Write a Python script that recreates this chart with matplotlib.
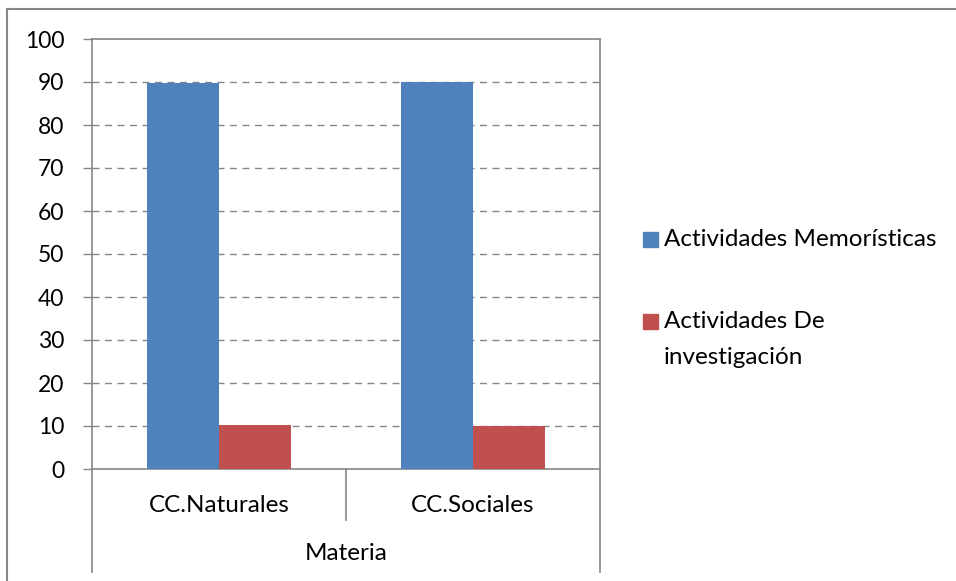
import matplotlib.pyplot as plt
import numpy as np
from matplotlib.lines import Line2D

# data
categorias = ["CC.Naturales", "CC.Sociales"]
memoristicas = [89.8, 90.1]
investigacion = [10.2, 9.9]
series_labels = ["Actividades Memorísticas", "Actividades De\ninvestigación"]
y_ticks = [0, 10, 20, 30, 40, 50, 60, 70, 80, 90, 100]
eje_titulo = "Materia"

plt.rcParams['font.family'] = ['Lato', 'DejaVu Sans']
azul = '#4f81bd'
rojo = '#c0504d'
gris = '#868686'

W, H = 956, 581
fig = plt.figure(figsize=(W / 100, H / 100), dpi=100)

# plot area in pixel coords
x0, x1, ytop, ybot = 92, 600, 39, 469
ax = fig.add_axes([x0 / W, (H - ybot) / H, (x1 - x0) / W, (ybot - ytop) / H])
ax_h = ybot - ytop

x = np.arange(len(categorias))
ancho = 0.285
ax.bar(x - ancho / 2, memoristicas, ancho, color=azul, zorder=3)
ax.bar(x + ancho / 2, investigacion, ancho, color=rojo, zorder=3)

ax.set_xlim(-0.5, len(categorias) - 0.5)
ax.set_ylim(0, 100)
ax.set_yticks(y_ticks)
ax.set_yticklabels([str(v) for v in y_ticks], fontsize=16.5)
ax.tick_params(axis='y', length=6.5, width=1, color=gris, pad=13.5)
ax.set_xticks([])

for v in y_ticks[1:-1]:
    ax.axhline(v, color=gris, lw=1, ls=(0, (5, 4)), zorder=1)

for s in ['left', 'bottom', 'top', 'right']:
    ax.spines[s].set_color(gris)
    ax.spines[s].set_linewidth(1.2)

# multi-level category axis lines and labels
bajo_largo = -(572 - ybot) / ax_h
bajo_corto = -(520 - ybot) / ax_h
tr = ax.get_xaxis_transform()
for xb in [-0.5, len(categorias) - 0.5]:
    ax.plot([xb, xb], [0, bajo_largo], color=gris, lw=1.2, transform=tr, clip_on=False)
for xb in np.arange(0.5, len(categorias) - 0.5):
    ax.plot([xb, xb], [0, bajo_corto], color=gris, lw=1.2, transform=tr, clip_on=False)
for xi, c in zip(x, categorias):
    ax.text(xi, -(505 - ybot) / ax_h, c, transform=tr, ha='center', va='center', fontsize=17.5)
ax.text(0.5, -(553 - ybot) / ax_h, eje_titulo, transform=ax.transAxes,
        ha='center', va='center', fontsize=17.5)

# legend drawn by hand to match the Excel spacing
for color, lab, yc in zip([azul, rojo], series_labels, [240, 322]):
    fig.patches.append(plt.Rectangle((643 / W, (H - yc - 7) / H), 15 / W, 15 / H,
                                     color=color, transform=fig.transFigure))
    for i, linea in enumerate(lab.split('\n')):
        fig.text(664 / W, (H - yc - 36 * i) / H, linea, ha='left', va='center', fontsize=17.5)

# outer chart border
fig.lines.append(Line2D([7 / W, 1], [(H - 9) / H] * 2, color=gris, lw=1.5, transform=fig.transFigure))
fig.lines.append(Line2D([7 / W] * 2, [0, (H - 9) / H], color=gris, lw=1.5, transform=fig.transFigure))

fig.savefig('out.png', dpi=100)
